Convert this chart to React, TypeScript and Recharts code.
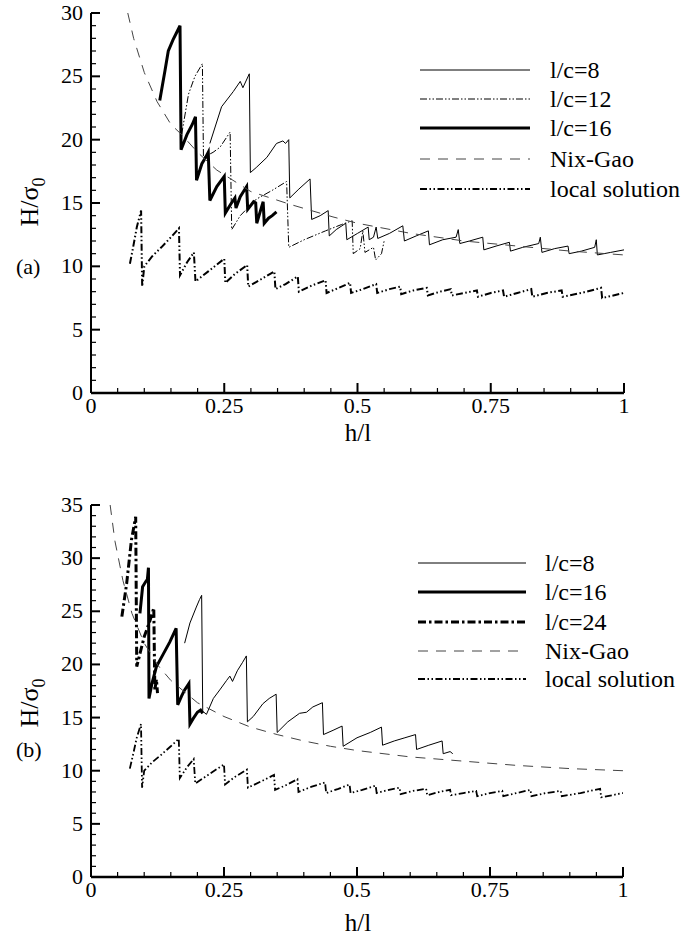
import React from 'react';
import { LineChart, Line, XAxis, YAxis } from 'recharts';

const FONT = '"Liberation Serif", "DejaVu Serif", "Times New Roman", serif';

// tick positions (labels are drawn only on the major ones)
const xTicks = [0, 0.05, 0.1, 0.15, 0.2, 0.25, 0.3, 0.35, 0.4, 0.45, 0.5, 0.55, 0.6, 0.65, 0.7, 0.75, 0.8, 0.85, 0.9, 0.95, 1];
const yTicksA = [0, 1, 2, 3, 4, 5, 6, 7, 8, 9, 10, 11, 12, 13, 14, 15, 16, 17, 18, 19, 20, 21, 22, 23, 24, 25, 26, 27, 28, 29, 30];
const yTicksB = [0, 1, 2, 3, 4, 5, 6, 7, 8, 9, 10, 11, 12, 13, 14, 15, 16, 17, 18, 19, 20, 21, 22, 23, 24, 25, 26, 27, 28, 29, 30, 31, 32, 33, 34, 35];

// ---- panel (a) : [h/l, H/sigma0]
const lc8A = [
  [0.223, 19.7], [0.245, 22.6], [0.267, 23.8], [0.28, 24.6], [0.285, 24.1], [0.297, 25.2], [0.299, 17.4],
  [0.31, 17.8], [0.33, 18.6], [0.348, 19.7], [0.36, 19.9], [0.365, 19.7], [0.371, 20.0], [0.373, 15.4],
  [0.39, 16.1], [0.411, 16.9], [0.414, 13.7], [0.43, 14.0], [0.445, 14.4], [0.447, 12.4], [0.46, 12.9],
  [0.478, 13.4], [0.48, 12.1], [0.5, 12.6], [0.52, 13.1], [0.522, 12.1], [0.53, 12.3], [0.535, 13.1],
  [0.538, 12.2], [0.56, 12.6], [0.585, 13.2], [0.588, 12.0], [0.61, 12.4], [0.633, 12.8], [0.635, 11.7],
  [0.66, 12.1], [0.685, 12.3], [0.689, 12.9], [0.692, 11.8], [0.71, 12.0], [0.735, 12.3], [0.737, 11.3],
  [0.76, 11.6], [0.785, 11.9], [0.787, 11.2], [0.81, 11.5], [0.84, 11.8], [0.843, 12.3], [0.846, 11.1],
  [0.87, 11.4], [0.895, 11.6], [0.897, 11.0], [0.92, 11.2], [0.945, 11.5], [0.948, 12.1], [0.95, 10.9],
  [0.975, 11.1], [1.0, 11.3],
];
const lc12A = [
  [0.17, 20.4], [0.183, 23.6], [0.195, 25.0], [0.209, 26.0], [0.211, 18.6], [0.229, 19.0], [0.242, 19.4],
  [0.261, 20.6], [0.264, 12.9], [0.28, 14.0], [0.31, 15.3], [0.34, 16.0], [0.367, 16.7], [0.371, 11.5],
  [0.4, 12.1], [0.44, 12.8], [0.47, 13.3], [0.49, 13.6], [0.492, 11.0], [0.505, 11.4], [0.51, 12.8],
  [0.514, 11.1], [0.53, 11.5], [0.534, 10.5], [0.545, 11.0], [0.55, 12.0],
];
const lc16A = [
  [0.129, 23.1], [0.139, 25.5], [0.145, 27.0], [0.154, 27.9], [0.16, 28.4], [0.167, 29.0], [0.169, 19.2],
  [0.18, 20.4], [0.19, 21.2], [0.196, 21.8], [0.198, 16.8], [0.208, 18.1], [0.215, 18.6], [0.22, 19.0],
  [0.223, 15.2], [0.236, 16.3], [0.25, 17.1], [0.252, 14.2], [0.262, 14.9], [0.27, 15.4], [0.272, 14.6],
  [0.28, 15.5], [0.292, 16.3], [0.294, 14.5], [0.305, 15.1], [0.309, 15.0], [0.311, 13.4], [0.318, 14.4],
  [0.323, 15.1], [0.325, 13.4], [0.333, 13.8], [0.34, 14.0], [0.348, 14.3],
];
const nixGaoA = [
  [0.069, 30.0], [0.08, 28.0], [0.1, 25.3], [0.124, 23.0], [0.15, 21.2], [0.17, 20.4], [0.2, 19.0],
  [0.236, 17.6], [0.3, 15.9], [0.373, 14.9], [0.454, 13.9], [0.5, 13.4], [0.6, 12.6], [0.7, 12.0],
  [0.8, 11.6], [0.9, 11.2], [1.0, 10.9],
];
// same local solution curve appears in both panels
const localSolution = [
  [0.073, 10.2], [0.079, 11.5], [0.086, 13.1], [0.094, 14.4], [0.096, 8.4], [0.1, 10.0], [0.115, 10.8],
  [0.132, 11.5], [0.15, 12.3], [0.165, 13.0], [0.167, 9.3], [0.18, 10.3], [0.193, 11.1], [0.196, 8.8],
  [0.22, 9.6], [0.25, 10.6], [0.252, 8.7], [0.27, 9.4], [0.293, 10.1], [0.295, 8.4], [0.32, 9.0],
  [0.344, 9.6], [0.346, 8.2], [0.365, 8.6], [0.388, 9.2], [0.39, 8.0], [0.415, 8.5], [0.44, 8.9],
  [0.442, 7.9], [0.465, 8.3], [0.486, 8.7], [0.488, 7.9], [0.51, 8.2], [0.535, 8.6], [0.537, 7.9],
  [0.56, 8.2], [0.58, 8.4], [0.582, 7.8], [0.605, 8.1], [0.63, 8.3], [0.632, 7.7], [0.655, 8.0],
  [0.675, 8.2], [0.677, 7.7], [0.7, 7.9], [0.724, 8.1], [0.726, 7.6], [0.75, 7.9], [0.773, 8.1],
  [0.775, 7.6], [0.8, 7.9], [0.826, 8.2], [0.828, 7.6], [0.855, 7.9], [0.883, 8.1], [0.885, 7.6],
  [0.92, 7.9], [0.957, 8.3], [0.959, 7.5], [0.98, 7.7], [1.0, 7.9],
];

// ---- panel (b)
const lc8B = [
  [0.176, 22.0], [0.186, 23.9], [0.198, 25.4], [0.204, 26.1], [0.208, 26.5], [0.21, 15.6], [0.217, 15.3],
  [0.23, 16.8], [0.242, 17.6], [0.255, 18.5], [0.261, 18.9], [0.266, 18.4], [0.275, 19.4], [0.285, 20.2],
  [0.292, 20.8], [0.294, 14.6], [0.305, 15.1], [0.323, 16.3], [0.335, 16.8], [0.348, 17.2], [0.35, 13.6],
  [0.37, 14.6], [0.392, 15.4], [0.405, 15.5], [0.417, 16.0], [0.435, 16.4], [0.437, 13.4], [0.455, 13.8],
  [0.472, 14.2], [0.474, 12.3], [0.5, 13.1], [0.525, 13.6], [0.546, 14.1], [0.548, 12.4], [0.57, 12.8],
  [0.59, 13.1], [0.61, 13.4], [0.612, 12.0], [0.635, 12.4], [0.66, 12.8], [0.662, 11.6], [0.675, 11.8],
  [0.68, 11.6],
];
const lc16B = [
  [0.092, 24.8], [0.097, 27.3], [0.103, 27.8], [0.106, 28.0], [0.108, 29.1], [0.109, 16.8], [0.115, 18.3],
  [0.123, 19.8], [0.135, 20.9], [0.148, 22.1], [0.16, 23.4], [0.163, 16.2], [0.17, 17.0], [0.176, 17.6],
  [0.184, 18.2], [0.186, 14.4], [0.192, 14.9], [0.2, 15.5], [0.206, 15.7], [0.21, 15.4],
];
const lc24B = [
  [0.058, 24.5], [0.067, 27.6], [0.076, 31.7], [0.084, 33.9], [0.086, 19.8], [0.092, 21.0], [0.1, 22.6],
  [0.11, 24.0], [0.118, 25.3], [0.12, 17.6], [0.123, 18.6], [0.125, 17.3],
];
const nixGaoB = [
  [0.036, 35.0], [0.045, 31.6], [0.06, 27.9], [0.077, 24.8], [0.1, 22.0], [0.126, 19.9], [0.15, 18.5],
  [0.2, 16.4], [0.25, 15.1], [0.3, 14.1], [0.35, 13.4], [0.4, 12.8], [0.45, 12.3], [0.5, 11.9],
  [0.6, 11.3], [0.7, 10.9], [0.8, 10.5], [0.9, 10.2], [1.0, 10.0],
];

const toRows = (pts: number[][]) => pts.map(([x, y]) => ({ x, y }));

type Series = { name: string; pts: number[][]; width: number; dash?: string; color?: string };

const panelA: Series[] = [
  { name: 'l/c=8', pts: lc8A, width: 1 },
  { name: 'l/c=12', pts: lc12A, width: 1, dash: '7 2 1.5 2 1.5 2' },
  { name: 'l/c=16', pts: lc16A, width: 3 },
  { name: 'Nix-Gao', pts: nixGaoA, width: 1, dash: '10 8', color: '#444' },
  { name: 'local solution', pts: localSolution, width: 2, dash: '7 2.5 1.5 2.5 1.5 2.5' },
];
const panelB: Series[] = [
  { name: 'l/c=8', pts: lc8B, width: 1 },
  { name: 'l/c=16', pts: lc16B, width: 3 },
  { name: 'l/c=24', pts: lc24B, width: 3, dash: '8 3 2.5 3' },
  { name: 'Nix-Gao', pts: nixGaoB, width: 1, dash: '10 8', color: '#444' },
  { name: 'local solution', pts: localSolution, width: 1.8, dash: '7 2.5 1.5 2.5 1.5 2.5' },
];

const XTick = (props: any) => {
  const { x, y, payload } = props;
  const v = payload.value;
  const major = Math.abs(v * 4 - Math.round(v * 4)) < 1e-6;
  return (
    <g>
      <line x1={x} x2={x} y1={y} y2={y - (major ? 10 : 5)} stroke="#000" strokeWidth={major ? 2 : 1.2} />
      {major && (
        <text x={x} y={y + 20} textAnchor="middle" fontSize={22} fontFamily={FONT} fill="#000">
          {String(v)}
        </text>
      )}
    </g>
  );
};

const YTick = (props: any) => {
  const { x, y, payload } = props;
  const v = payload.value;
  const major = v % 5 === 0;
  return (
    <g>
      <line x1={x} x2={x + (major ? 9 : 5)} y1={y} y2={y} stroke="#000" strokeWidth={major ? 2 : 1.2} />
      {major && (
        <text x={x - 8} y={y + 7} textAnchor="end" fontSize={22} fontFamily={FONT} fill="#000">
          {String(v)}
        </text>
      )}
    </g>
  );
};

function Panel({ series, yMax, yTicks, height, margin }: any) {
  return (
    <LineChart width={683} height={height} margin={margin}>
      <XAxis
        type="number"
        dataKey="x"
        domain={[0, 1]}
        ticks={xTicks}
        interval={0}
        height={1}
        tickSize={0}
        tickMargin={0}
        tick={XTick}
        axisLine={{ stroke: '#000', strokeWidth: 2.5 }}
        allowDataOverflow
      />
      <YAxis
        type="number"
        domain={[0, yMax]}
        ticks={yTicks}
        interval={0}
        width={1}
        tickSize={0}
        tickMargin={0}
        tick={YTick}
        axisLine={{ stroke: '#000', strokeWidth: 2 }}
        allowDataOverflow
      />
      {series.map((s: Series) => (
        <Line
          key={s.name}
          data={toRows(s.pts)}
          dataKey="y"
          type="linear"
          stroke={s.color || '#000'}
          strokeWidth={s.width}
          strokeDasharray={s.dash}
          dot={false}
          activeDot={false}
          isAnimationActive={false}
        />
      ))}
    </LineChart>
  );
}

function Legend({ series, x0, x1, tx, rows }: any) {
  return (
    <g>
      {series.map((s: Series, i: number) => (
        <g key={s.name}>
          <line x1={x0} x2={x1} y1={rows[i]} y2={rows[i]} stroke={s.color || '#000'} strokeWidth={s.width} strokeDasharray={s.dash} />
          <text x={tx} y={rows[i] + 8} fontSize={24} fontFamily={FONT} fill="#000">{s.name}</text>
        </g>
      ))}
    </g>
  );
}

function YTitle({ cx, cy }: { cx: number; cy: number }) {
  return (
    <text transform={`translate(${cx},${cy}) rotate(-90)`} textAnchor="middle" fontSize={26} fontFamily={FONT} fill="#000">
      H/σ<tspan fontSize={18} dy={7}>0</tspan>
    </text>
  );
}

export default function App() {
  return (
    <div style={{ position: 'absolute', left: 0, top: 0, width: 683, height: 935, background: '#fff' }}>
      <div style={{ position: 'absolute', left: 0, top: 0 }}>
        <Panel series={panelA} yMax={30} yTicks={yTicksA} height={450} margin={{ top: 13, right: 59, bottom: 56, left: 90 }} />
      </div>
      <div style={{ position: 'absolute', left: 0, top: 460 }}>
        <Panel series={panelB} yMax={35} yTicks={yTicksB} height={475} margin={{ top: 45, right: 60, bottom: 57, left: 90 }} />
      </div>
      <svg width={683} height={935} style={{ position: 'absolute', left: 0, top: 0, pointerEvents: 'none' }}>
        <Legend series={panelA} x0={420} x1={530} tx={550} rows={[70, 99, 128, 159, 189]} />
        <Legend series={panelB} x0={418} x1={526} tx={545} rows={[563, 592, 622, 651, 679]} />
        <YTitle cx={38} cy={202} />
        <YTitle cx={38} cy={703} />
        <text x={358} y={441} textAnchor="middle" fontSize={25} fontFamily={FONT}>h/l</text>
        <text x={358} y={931} textAnchor="middle" fontSize={25} fontFamily={FONT}>h/l</text>
        <text x={16} y={274} fontSize={22} fontFamily={FONT}>(a)</text>
        <text x={16} y={757} fontSize={22} fontFamily={FONT}>(b)</text>
      </svg>
    </div>
  );
}
